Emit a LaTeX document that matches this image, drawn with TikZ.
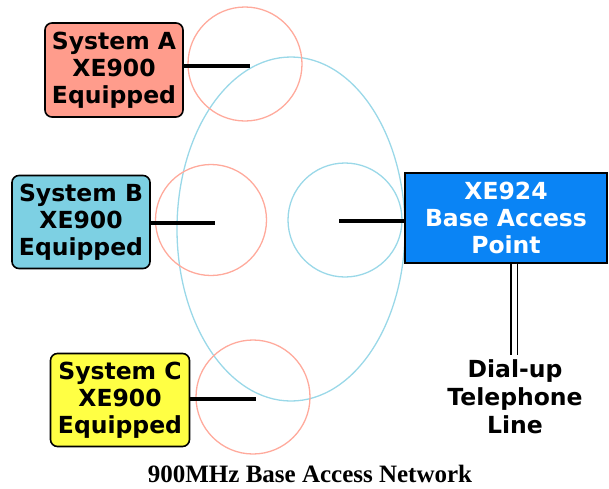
\documentclass[tikz,border=0pt]{standalone}
\usepackage{fontspec}
\setmainfont{DejaVu Sans}
\newfontfamily\capfont{Liberation Serif}
\definecolor{salmonbox}{HTML}{FF9C8C}
\definecolor{salmonring}{HTML}{FFAA9C}
\definecolor{bluebox}{HTML}{7DD0E3}
\definecolor{bluering}{HTML}{9AD8E8}
\definecolor{yellowbox}{HTML}{FFFF44}
\definecolor{basebox}{HTML}{0A84F5}
\begin{document}
\begin{tikzpicture}[x=1pt,y=-1pt,
  sysbox/.style={draw=black,line width=1.6pt,rounded corners=7pt,align=center,
    font=\fontsize{23.5}{27}\selectfont\bfseries,inner sep=0pt},
  ring/.style={circle,draw,line width=1.3pt,minimum size=114pt,inner sep=0pt},
  link/.style={line width=4pt},
  lbl/.style={align=center,font=\fontsize{23.5}{28}\selectfont\bfseries}]
\useasboundingbox (0,0) rectangle (609,488);
% coverage
\draw[bluering,line width=1.3pt] (291,229) ellipse [x radius=114pt, y radius=172pt];
\node[ring,draw=salmonring] (ca) at (245,64) {};
\node[ring,draw=salmonring,minimum size=111pt] (cb) at (211,220) {};
\node[ring,draw=salmonring] (cc) at (253,397) {};
\node[ring,draw=bluering] (cd) at (345,220) {};
% boxes
\node[sysbox,fill=salmonbox,minimum width=138pt,minimum height=94pt] (sa) at (114,70) {System A\\XE900\\Equipped};
\node[sysbox,fill=bluebox,minimum width=138pt,minimum height=93pt] (sb) at (81,222) {System B\\XE900\\Equipped};
\node[sysbox,fill=yellowbox,minimum width=139pt,minimum height=93pt] (sc) at (120,400) {System C\\XE900\\Equipped};
\node[draw=black,line width=1.4pt,fill=basebox,text=white,align=center,
  font=\fontsize{23.5}{27}\selectfont\bfseries,minimum width=202pt,minimum height=90pt,inner sep=0pt]
  (ap) at (506,218) {XE924\\Base Access\\Point};
\node[lbl] (tel) at (515,397) {Dial-up\\Telephone\\Line};
% links
\coordinate (ea) at (250,66);
\coordinate (eb) at (215,223);
\coordinate (ec) at (256,399);
\coordinate (ed) at (339,221);
\coordinate (te) at (514,355);
\draw[link] (sa.east |- ea) -- (ea);
\draw[link] (sb.east |- eb) -- (eb);
\draw[link] (sc.east |- ec) -- (ec);
\draw[link] (ed) -- (ap.west |- ed);
\draw[line width=1.8pt,double distance=5pt] (te |- ap.south) -- (te);
% caption
\node[font=\capfont\bfseries\fontsize{25}{29}\selectfont,inner sep=0pt] (cap) at (310,474) {900MHz Base Access Network};
\end{tikzpicture}
\end{document}
